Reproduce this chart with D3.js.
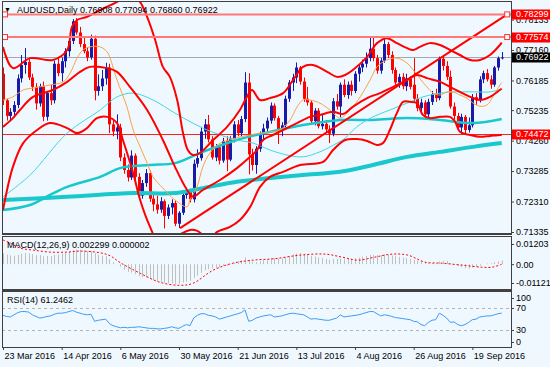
<!DOCTYPE html>
<html>
<head>
<meta charset="utf-8">
<script src="https://cdn.jsdelivr.net/npm/d3@7/dist/d3.min.js"></script>
<style>
  body { margin: 0; background: #f0f8ff; }
  svg { display: block; font-family: "Liberation Sans", Arial, sans-serif; font-size: 9px; }
</style>
</head>
<body>
<div id="chart"></div>
<script>
// AUDUSD daily, 23 Mar 2016 .. 29 Sep 2016 (one value per bar)
const opens = [
  .7640,.7555,.7505,.7518,.7540,.7625,.7668,.7678,.7628,.7598,
  .7545,.7600,.7502,.7578,.7555,.7672,.7642,.7680,.7712,.7745,
  .7808,.7772,.7735,.7712,.7692,.7752,.7585,.7600,.7625,.7660,
  .7478,.7455,.7468,.7372,.7332,.7308,.7378,.7310,.7250,.7290,
  .7322,.7240,.7222,.7205,.7232,.7185,.7212,.7226,.7160,.7195,
  .7252,.7265,.7238,.7352,.7370,.7455,.7478,.7430,.7372,.7405,
  .7362,.7425,.7365,.7432,.7478,.7450,.7495,.7612,.7382,.7348,
  .7400,.7448,.7465,.7490,.7538,.7498,.7462,.7475,.7560,.7612,
  .7628,.7660,.7615,.7560,.7548,.7488,.7522,.7472,.7480,.7462,
  .7448,.7552,.7535,.7605,.7572,.7605,.7585,.7640,.7660,.7672,
  .7690,.7720,.7690,.7650,.7682,.7735,.7700,.7652,.7612,.7630,
  .7600,.7625,.7605,.7560,.7530,.7548,.7510,.7550,.7575,.7562,
  .7688,.7665,.7630,.7535,.7505,.7468,.7502,.7460,.7475,.7565,
  .7555,.7622,.7642,.7622,.7605,.7660,.76908
];
const highs = [
  .7660,.7560,.7530,.7552,.7638,.7700,.7722,.7690,.7640,.7610,
  .7608,.7615,.7585,.7605,.7682,.7690,.7692,.7722,.7755,.7815,
  .7818,.7790,.7760,.7725,.7765,.7762,.7638,.7652,.7675,.7672,
  .7495,.7510,.7480,.7385,.7350,.7395,.7385,.7322,.7300,.7335,
  .7330,.7252,.7250,.7245,.7238,.7222,.7238,.7235,.7200,.7262,
  .7275,.7272,.7365,.7398,.7470,.7495,.7508,.7440,.7415,.7412,
  .7435,.7440,.7440,.7488,.7492,.7505,.7645,.7642,.7400,.7408,
  .7455,.7480,.7500,.7548,.7545,.7505,.7485,.7570,.7620,.7640,
  .7676,.7665,.7628,.7598,.7555,.7530,.7530,.7512,.7492,.7475,
  .7562,.7575,.7612,.7622,.7615,.7618,.7648,.7670,.7685,.7708,
  .7757,.7757,.7700,.7690,.7758,.7742,.7712,.7660,.7640,.7642,
  .7640,.7632,.7690,.7575,.7560,.7555,.7560,.7585,.7592,.7695,
  .7700,.7680,.7650,.7548,.7515,.7512,.7508,.7500,.7575,.7578,
  .7632,.7650,.7655,.7635,.7665,.7695,.77094
];
const lows = [
  .7540,.7490,.7492,.7500,.7530,.7612,.7640,.7620,.7585,.7525,
  .7535,.7488,.7490,.7540,.7545,.7632,.7615,.7660,.7695,.7735,
  .7765,.7725,.7705,.7680,.7685,.7555,.7570,.7585,.7605,.7450,
  .7440,.7430,.7360,.7320,.7295,.7300,.7300,.7240,.7240,.7278,
  .7230,.7200,.7192,.7195,.7145,.7175,.7190,.7152,.7146,.7188,
  .7240,.7228,.7228,.7340,.7362,.7432,.7420,.7365,.7360,.7350,
  .7355,.7328,.7360,.7420,.7440,.7440,.7485,.7318,.7330,.7320,
  .7390,.7425,.7450,.7480,.7490,.7415,.7440,.7468,.7550,.7585,
  .7610,.7605,.7550,.7538,.7480,.7475,.7465,.7462,.7452,.7418,
  .7440,.7525,.7500,.7565,.7560,.7570,.7578,.7615,.7645,.7660,
  .7680,.7680,.7640,.7640,.7675,.7690,.7640,.7602,.7595,.7590,
  .7585,.7590,.7548,.7520,.7515,.7500,.7500,.7540,.7550,.7555,
  .7650,.7620,.7528,.7490,.7460,.7447,.7450,.7452,.7468,.7540,
  .7548,.7610,.7615,.7592,.7598,.7650,.76860
];
const closes = [
  .7555,.7505,.7518,.7540,.7625,.7668,.7678,.7628,.7598,.7545,
  .7600,.7502,.7578,.7555,.7672,.7642,.7680,.7712,.7745,.7808,
  .7772,.7735,.7712,.7692,.7752,.7585,.7600,.7625,.7660,.7478,
  .7455,.7468,.7372,.7332,.7308,.7378,.7310,.7250,.7290,.7322,
  .7240,.7222,.7205,.7232,.7185,.7212,.7226,.7160,.7195,.7252,
  .7265,.7238,.7352,.7370,.7455,.7478,.7430,.7372,.7405,.7362,
  .7425,.7365,.7432,.7478,.7450,.7495,.7612,.7382,.7348,.7400,
  .7448,.7465,.7490,.7538,.7498,.7462,.7475,.7560,.7612,.7628,
  .7660,.7615,.7560,.7548,.7488,.7522,.7472,.7480,.7462,.7448,
  .7552,.7535,.7605,.7572,.7605,.7585,.7640,.7660,.7672,.7690,
  .7720,.7690,.7650,.7682,.7735,.7700,.7652,.7612,.7630,.7600,
  .7625,.7598,.7560,.7530,.7548,.7510,.7550,.7575,.7562,.7688,
  .7665,.7630,.7535,.7505,.7468,.7502,.7460,.7475,.7565,.7555,
  .7622,.7642,.7622,.7605,.7660,.7690,.76922
];

// indicator lines, read as [bar, value]
const bbUpper = [[0,.7726],[2.7,.7658],[7.4,.7690],[13.6,.7684],[17.5,.7716],[18.8,.7790],[20.2,.7812],[22.9,.7822],[26.5,.7844],[31.1,.7870],[34,.7895],[37.2,.7872],[39.3,.7822],[41.5,.7748],[43.6,.7662],[45.5,.7630],[47.5,.7556],[49.1,.7450],[50.4,.7396],[51.8,.7380],[53.7,.7386],[57.3,.7428],[61.1,.7470],[64.6,.7524],[66.5,.7566],[67.9,.7588],[70.1,.7556],[72.8,.7562],[76.4,.7578],[79.1,.7620],[81.8,.7662],[84.5,.7668],[88.4,.7646],[91.1,.7630],[93.3,.7636],[95.4,.7652],[99.3,.7694],[102,.7738],[104.7,.7754],[107.4,.7738],[110.2,.7722],[111.8,.7716],[113.7,.7726],[116.4,.7738],[119.2,.7732],[121.9,.7716],[124.6,.7700],[127.4,.7684],[130.1,.7684],[132.8,.7700],[135.5,.7732],[136,.7740]];
const bbMiddle = [[0,.7470],[2.7,.7498],[4.6,.7524],[8.2,.7566],[13.6,.7588],[17.5,.7614],[21,.7646],[23.7,.7662],[28.4,.7658],[31.1,.7646],[34.6,.7598],[39.3,.7524],[43.6,.7428],[46.9,.7342],[50.2,.7268],[51.8,.7246],[54.5,.7268],[59.2,.7300],[63.8,.7338],[67.4,.7374],[69.3,.7396],[70.9,.7428],[73.6,.7444],[76.4,.7460],[80.2,.7482],[83.7,.7502],[86.4,.7508],[90,.7518],[92.7,.7511],[95.4,.7534],[99.3,.7562],[102.8,.7578],[106.4,.7598],[110.2,.7620],[112.9,.7636],[115.6,.7626],[119.2,.7614],[121.9,.7598],[124.6,.7582],[127.4,.7566],[130.1,.7556],[132.8,.7566],[135.5,.7588],[136,.7592]];
const bbLower = [[0,.7204],[2.7,.7342],[5.5,.7418],[9.3,.7460],[12.8,.7482],[17.5,.7466],[20.2,.7450],[22.9,.7466],[25.6,.7498],[28.4,.7502],[31.1,.7482],[32.7,.7428],[35.5,.7322],[37.4,.7236],[40.1,.7150],[42,.7108],[45,.7102],[48.5,.7127],[51,.7140],[53,.7137],[55,.7121],[57,.7118],[58.4,.7134],[61.9,.7150],[64.6,.7172],[67.4,.7214],[70.1,.7278],[72.8,.7310],[76.4,.7326],[81,.7348],[87.3,.7358],[90,.7396],[93.3,.7428],[96.5,.7431],[99.3,.7425],[102,.7412],[103.6,.7418],[105.5,.7460],[107.4,.7514],[109.1,.7550],[111,.7550],[112.9,.7546],[114.5,.7508],[116.4,.7498],[119.2,.7502],[121.9,.7502],[123.3,.7486],[124.6,.7454],[127.4,.7444],[130.1,.7438],[132.8,.7441],[135.5,.7444],[136,.7445]];
const maFast = [[0,.7556],[2.7,.7566],[5.5,.7588],[8.2,.7594],[12.8,.7604],[16.4,.7614],[18.3,.7642],[20.2,.7690],[21.8,.7716],[23.7,.7726],[26.5,.7726],[28.4,.7710],[29.2,.7690],[31.1,.7620],[33.8,.7534],[35.5,.7460],[37.4,.7406],[39.3,.7354],[40.9,.7310],[43.6,.7274],[46.9,.7236],[50.2,.7214],[51,.7236],[52.9,.7278],[54.5,.7342],[56.4,.7386],[59.2,.7418],[61.9,.7428],[64.6,.7438],[67.4,.7444],[70.1,.7450],[72.8,.7454],[75.5,.7460],[78.3,.7492],[80.2,.7534],[81.8,.7556],[83.7,.7556],[86.4,.7546],[89.2,.7524],[91.9,.7498],[94.6,.7524],[97.4,.7566],[100.1,.7620],[102,.7662],[104.7,.7684],[107.4,.7690],[110.2,.7674],[112.9,.7636],[115.6,.7598],[117.3,.7578],[119.2,.7572],[121.1,.7582],[122.7,.7582],[124.6,.7572],[126.5,.7562],[128.2,.7546],[130.1,.7536],[132,.7540],[133.6,.7566],[135.5,.7604],[136,.7612]];
const maSlow = [[0,.7246],[7.4,.7316],[17.5,.7450],[26.5,.7524],[31.1,.7566],[35.5,.7578],[40.9,.7556],[46.9,.7514],[50.2,.7492],[54.5,.7466],[59.2,.7444],[63.8,.7428],[68.2,.7418],[72.8,.7396],[77.4,.7380],[81.8,.7374],[86.4,.7390],[91.1,.7418],[93.3,.7434],[96.5,.7470],[100.9,.7502],[105.5,.7524],[110.2,.7546],[114.5,.7566],[119.2,.7578],[123.8,.7582],[128.2,.7582],[132.8,.7582],[136,.7591]];
const ma100 = [[0,.7204],[7.4,.7220],[12.8,.7252],[17.5,.7278],[26.5,.7310],[31.9,.7338],[40.1,.7348],[46.9,.7354],[54.5,.7390],[63.8,.7428],[72.8,.7454],[81.8,.7476],[91.9,.7492],[100.9,.7492],[110.2,.7498],[119.2,.7492],[128.2,.7482],[136,.7495]];
const ma200 = [[0,.7236],[17.5,.7246],[35.5,.7258],[46.9,.7258],[54.5,.7274],[63.8,.7294],[72.8,.7306],[81.8,.7316],[91.9,.7326],[100.9,.7348],[110.2,.7374],[119.2,.7390],[128.2,.7406],[136,.7418]];

// MACD(12,26,9): main per bar, signal as [bar, value]
const macdMain = [
  .0065,.0058,.0053,.0050,.0055,.0062,.0066,.0064,.0060,.0054,
  .0054,.0047,.0049,.0048,.0056,.0058,.0063,.0069,.0076,.0085,
  .0088,.0086,.0082,.0077,.0079,.0066,.0056,.0050,.0048,.0030,
  .0012,.0001,-.0016,-.0032,-.0046,-.0050,-.0060,-.0072,-.0078,-.0080,
  -.0088,-.0096,-.0103,-.0106,-.0112,-.0114,-.0114,-.0118,-.0116,-.0110,
  -.0104,-.0098,-.0082,-.0068,-.0052,-.0036,-.0030,-.0026,-.0022,-.0020,
  -.0012,-.0010,-.0002,.0008,.0016,.0024,.0040,.0026,.0014,.0012,
  .0018,.0024,.0030,.0038,.0038,.0034,.0034,.0040,.0050,.0058,
  .0064,.0066,.0062,.0058,.0050,.0046,.0040,.0036,.0030,.0026,
  .0030,.0030,.0034,.0032,.0034,.0032,.0036,.0040,.0045,.0050,
  .0056,.0056,.0054,.0054,.0058,.0056,.0052,.0048,.0044,.0040,
  .0036,.0032,.0026,.0020,.0016,.0010,.0008,.0008,.0006,.0016,
  .0020,.0020,.0006,-.0004,-.0012,-.0018,-.0024,-.0026,-.0020,-.0016,
  -.0008,.0000,.0004,.0006,.0012,.0018,.002299
];
const macdSignal = [[0,.0144],[2,.0126],[4.6,.0096],[8.2,.0084],[12.8,.0072],[17.5,.0072],[21,.0078],[26.5,.0068],[29.2,.0050],[31.9,.0010],[37.4,-.0054],[42.8,-.0108],[48.3,-.0126],[51.8,-.0114],[57.3,-.0036],[62.7,.0006],[68.2,.0024],[74.2,.0033],[81,.0054],[87.8,.0060],[92.5,.0042],[96.8,.0024],[101.4,.0042],[106.1,.0060],[110.4,.0054],[115.1,.0012],[119.7,.0006],[125.2,-.0006],[130.6,-.0018],[133.4,-.0018],[136,.000002]];

// RSI(14) per bar
const rsi = [
  57,55,54,58,62,64,64,63,58,55,
  52,53,55,56,59,61,61,62,64,66,
  63,61,59,58,59,46,48,49,50,42,
  38,36,34,35,34,35,35,36,35,34,
  33,33,32,32,33,34,36,34,33,37,
  40,38,52,57,60,60,57,56,54,50,
  52,54,56,58,60,62,67,46,48,52,
  54,56,57,58,54,55,56,58,60,61,
  60,59,58,54,50,51,50,49,48,48,
  50,52,58,54,55,56,57,58,60,62,
  64,64,60,56,58,57,55,53,52,51,
  50,49,46,45,40,38,44,48,49,61,
  57,52,44,45,40,38,40,44,49,50,
  54,55,56,56,58,60,61.2462
];

// drawn objects and axis labels
const trendLine = [[48.3, 0.7146], [137.5, 0.78299]];
const resistLevels = [0.78299, 0.77574];
const supportLevel = 0.74472;
const bidPrice = 0.76922;
const priceTicks = [0.78133, 0.77160, 0.76185, 0.75235, 0.74260, 0.73285, 0.72310, 0.71335];
const macdTicks = [0.01203, 0, -0.011217];
const macdTickText = ["0.01203", "0.00", "-0.011217"];
const rsiTicks = [100, 70, 30, 0];
const rsiLevels = [70, 30];
const dateTickBars = [0, 16, 32, 48, 64, 80, 96, 112, 128];
const dateTickText = ["23 Mar 2016", "14 Apr 2016", "6 May 2016", "30 May 2016", "21 Jun 2016", "13 Jul 2016", "4 Aug 2016", "26 Aug 2016", "19 Sep 2016"];

const W = 550, H = 367;
const L = 2, R = 511;
const mainT = 1, mainB = 233, macdT = 236, macdB = 289, rsiT = 291, rsiB = 347;
const bull = "#1a1aa8", bear = "#ff0000";

const svg = d3.select("#chart").append("svg").attr("width", W).attr("height", H);
svg.append("rect").attr("width", W).attr("height", H).attr("fill", "#f0f8ff");

const x = d3.scaleLinear().domain([0, closes.length - 1]).range([3, 501.7]);
const y = d3.scaleLinear().domain([0.71335, 0.77160]).range([232, 50]);
const yMacd = d3.scaleLinear().domain([-0.011217, 0.01203]).range([283, 244]);
const yRsi = d3.scaleLinear().domain([30, 70]).range([330, 308.3]);
const px = i => Math.round(x(i));

const defs = svg.append("defs");
function addClip(id, t, b) {
  defs.append("clipPath").attr("id", id).append("rect")
    .attr("x", L + 1).attr("y", t + 1).attr("width", R - L - 1).attr("height", b - t - 1);
}
addClip("cMain", mainT, mainB);
addClip("cMacd", macdT, macdB);
addClip("cRsi", rsiT, rsiB);

// ---- main panel
const gm = svg.append("g").attr("clip-path", "url(#cMain)");

gm.append("line").attr("x1", L).attr("x2", R)
  .attr("y1", Math.round(y(bidPrice)) + 0.5).attr("y2", Math.round(y(bidPrice)) + 0.5)
  .attr("stroke", "#a4a8b4").attr("stroke-width", 1);
gm.append("line").attr("x1", L).attr("x2", R)
  .attr("y1", Math.round(y(supportLevel)) + 0.5).attr("y2", Math.round(y(supportLevel)) + 0.5)
  .attr("stroke", "#ff2020").attr("stroke-width", 1);

const candles = closes.map((c, i) => ({ i, o: opens[i], h: highs[i], l: lows[i], c }));
gm.selectAll(".wick").data(candles).join("line").attr("class", "wick")
  .attr("x1", d => px(d.i) + 0.5).attr("x2", d => px(d.i) + 0.5)
  .attr("y1", d => y(d.h)).attr("y2", d => y(d.l))
  .attr("stroke", d => d.c >= d.o ? bull : bear);
gm.selectAll(".body").data(candles).join("rect").attr("class", "body")
  .attr("x", d => px(d.i) - 1).attr("width", 3)
  .attr("y", d => y(Math.max(d.o, d.c)))
  .attr("height", d => Math.max(1, Math.abs(y(d.o) - y(d.c))))
  .attr("fill", d => d.c >= d.o ? bull : bear);

const smooth = d3.line().x(d => x(d[0])).y(d => y(d[1])).curve(d3.curveCatmullRom.alpha(0.5));
function drawLine(pts, color, w) {
  gm.append("path").datum(pts).attr("d", smooth)
    .attr("fill", "none").attr("stroke", color).attr("stroke-width", w)
    .attr("stroke-linejoin", "round");
}
drawLine(ma200, "#18c8cc", 4);
drawLine(ma100, "#18c8cc", 2.5);
drawLine(maSlow, "#40d8e0", 1);
drawLine(maFast, "#ffa040", 1);
drawLine(bbUpper, "#ff0000", 2);
drawLine(bbMiddle, "#ff0000", 2);
drawLine(bbLower, "#ff0000", 2);

// trend line and horizontal levels
gm.append("line")
  .attr("x1", x(trendLine[0][0])).attr("y1", y(trendLine[0][1]))
  .attr("x2", x(trendLine[1][0])).attr("y2", y(trendLine[1][1]))
  .attr("stroke", "#ff0000").attr("stroke-width", 2);
gm.selectAll(".lvl").data(resistLevels).join("line").attr("class", "lvl")
  .attr("x1", L).attr("x2", R)
  .attr("y1", d => y(d)).attr("y2", d => y(d))
  .attr("stroke", "#ff7878").attr("stroke-width", 2);
const anchors = resistLevels.flatMap(v => [[0.55, v], [137.5, v]]);
gm.selectAll(".anc").data(anchors).join("rect").attr("class", "anc")
  .attr("x", d => x(d[0]) - 2.5).attr("y", d => y(d[1]) - 2.5)
  .attr("width", 5).attr("height", 5)
  .attr("fill", "#ffffff").attr("stroke", "#ff3030").attr("stroke-width", 1);

// ---- MACD panel
const gd = svg.append("g").attr("clip-path", "url(#cMacd)");
gd.selectAll(".hist").data(macdMain).join("line").attr("class", "hist")
  .attr("x1", (d, i) => px(i) + 0.5).attr("x2", (d, i) => px(i) + 0.5)
  .attr("y1", yMacd(0)).attr("y2", d => yMacd(d))
  .attr("stroke", "#c0c0c0").attr("stroke-width", 1);
gd.append("path").datum(macdSignal)
  .attr("d", d3.line().x(d => x(d[0])).y(d => yMacd(d[1])).curve(d3.curveCatmullRom.alpha(0.5)))
  .attr("fill", "none").attr("stroke", "#ff0000").attr("stroke-width", 1)
  .attr("stroke-dasharray", "2,2");

// ---- RSI panel
const gr = svg.append("g").attr("clip-path", "url(#cRsi)");
gr.selectAll(".lv").data(rsiLevels).join("line").attr("class", "lv")
  .attr("x1", L).attr("x2", R)
  .attr("y1", d => Math.round(yRsi(d)) + 0.5).attr("y2", d => Math.round(yRsi(d)) + 0.5)
  .attr("stroke", "#b4b4b4").attr("stroke-dasharray", "3,3");
gr.append("path").datum(rsi)
  .attr("d", d3.line().x((d, i) => x(i)).y(d => yRsi(d)))
  .attr("fill", "none").attr("stroke", "#3c9cf4").attr("stroke-width", 1);

// ---- frames
[[mainT, mainB], [macdT, macdB], [rsiT, rsiB]].forEach(([t, b]) => {
  svg.append("rect").attr("x", L + 0.5).attr("y", t + 0.5)
    .attr("width", R - L).attr("height", b - t)
    .attr("fill", "none").attr("stroke", "#404040").attr("stroke-width", 1);
});
svg.append("rect").attr("x", L).attr("y", mainB).attr("width", R - L + 1).attr("height", 2).attr("fill", "#404040");
svg.append("rect").attr("x", L).attr("y", macdB).attr("width", R - L + 1).attr("height", 2).attr("fill", "#404040");

// ---- axes
function styleAxis(g) {
  g.select(".domain").remove();
  g.selectAll("text").attr("fill", "#000").style("font-size", "9px")
    .style("font-family", "'Liberation Sans', Arial, sans-serif");
  g.selectAll("line").attr("stroke", "#404040");
}
svg.append("g").attr("transform", `translate(${R},0)`)
  .call(d3.axisRight(y).tickValues(priceTicks).tickFormat(d3.format(".5f")).tickSize(3).tickPadding(2))
  .call(styleAxis);
svg.append("g").attr("transform", `translate(${R},0)`)
  .call(d3.axisRight(yMacd).tickValues(macdTicks).tickFormat((d, i) => macdTickText[i]).tickSize(3).tickPadding(2))
  .call(styleAxis);

const rsiLabelY = v => Math.min(Math.max(yRsi(v), rsiT + 7), rsiB - 5);
const rsiAx = svg.append("g");
rsiAx.selectAll("line").data(rsiTicks).join("line")
  .attr("x1", R).attr("x2", R + 3)
  .attr("y1", d => Math.round(rsiLabelY(d)) + 0.5).attr("y2", d => Math.round(rsiLabelY(d)) + 0.5)
  .attr("stroke", "#404040");
rsiAx.selectAll("text").data(rsiTicks).join("text")
  .attr("x", R + 5).attr("y", d => rsiLabelY(d)).attr("dy", "0.32em")
  .attr("fill", "#000").text(d => d);

svg.append("g").attr("transform", `translate(0,${rsiB})`)
  .call(d3.axisBottom(x).tickValues(dateTickBars).tickFormat((d, i) => dateTickText[i]).tickSize(3).tickPadding(3))
  .call(styleAxis)
  .call(g => g.selectAll("text").attr("text-anchor", "start").attr("x", 1));

// ---- price boxes on the right axis
const boxes = [
  { v: resistLevels[0], fill: "#ff0000" },
  { v: resistLevels[1], fill: "#ff0000" },
  { v: bidPrice, fill: "#000000" },
  { v: supportLevel, fill: "#ff0000" }
];
const bx = svg.selectAll(".pbox").data(boxes).join("g").attr("class", "pbox")
  .attr("transform", d => `translate(${R + 1},${Math.round(y(d.v))})`);
bx.append("rect").attr("x", 0).attr("y", -4.5).attr("width", W - R).attr("height", 10).attr("fill", d => d.fill);
bx.append("text").attr("x", 4).attr("dy", "0.36em").attr("fill", "#fff").text(d => d.v.toFixed(5));

// ---- titles
svg.append("text").attr("x", 4).attr("y", 12).style("font-size", "7px").text("\u25BC");
svg.append("text").attr("x", 17).attr("y", 13).attr("fill", "#000")
  .text(`AUDUSD,Daily  ${opens[opens.length - 1].toFixed(5)} ${highs[highs.length - 1].toFixed(5)} ${lows[lows.length - 1].toFixed(5)} ${closes[closes.length - 1].toFixed(5)}`);
svg.append("text").attr("x", 7).attr("y", 248).attr("fill", "#000")
  .text(`MACD(12,26,9) ${macdMain[macdMain.length - 1].toFixed(6)} ${macdSignal[macdSignal.length - 1][1].toFixed(6)}`);
svg.append("text").attr("x", 7).attr("y", 303).attr("fill", "#000")
  .text(`RSI(14) ${rsi[rsi.length - 1].toFixed(4)}`);
</script>
</body>
</html>
